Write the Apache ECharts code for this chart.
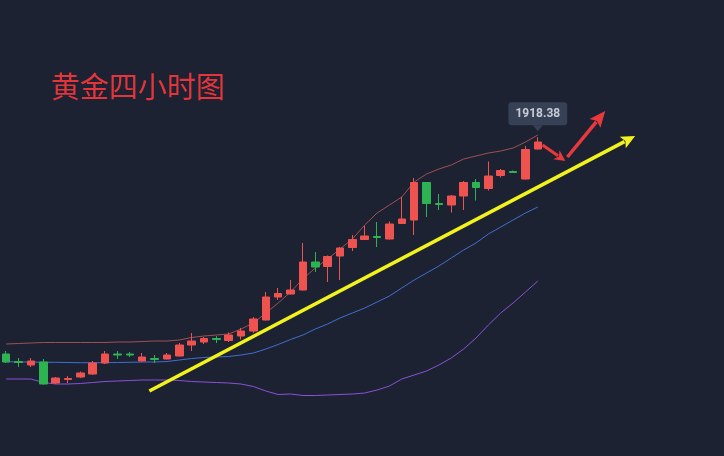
<!DOCTYPE html>
<html><head><meta charset="utf-8">
<script src="https://cdn.jsdelivr.net/npm/echarts@6/dist/echarts.min.js"></script>
<style>html,body{margin:0;padding:0;background:#1d2233;}#c{width:724px;height:456px;}</style>
</head><body><div id="c"></div>
<script>
const categories = ['1','2','3','4','5','6','7','8','9','10','11','12','13','14','15','16','17','18','19','20','21','22','23','24','25','26','27','28','29','30','31','32','33','34','35','36','37','38','39','40','41','42','43','44'];
const opens  = [1810,1806.25,1804.5,1806,1795.5,1797.25,1798.5,1800,1805.5,1810,1810,1806.5,1807.75,1807.5,1809,1814.5,1816,1817.75,1816.75,1819,1821.5,1827,1838.5,1840,1842,1856,1853.75,1859,1863.25,1867.25,1868.75,1867.5,1875.25,1877,1895.75,1885.25,1884.5,1889,1895.75,1892.75,1899.25,1901.25,1897.5,1912.5];
const closes = [1806,1805.75,1806.5,1795,1798,1797.75,1800.5,1805.5,1810,1809.5,1809.5,1808.5,1807.25,1809.5,1814.5,1816.5,1817.75,1817.25,1819.5,1821.5,1827.5,1838.5,1840.25,1842,1856,1853.5,1858.75,1863,1867.25,1869,1868.25,1875,1877.5,1895.75,1885.25,1884.75,1889,1895.75,1893.25,1899,1901.75,1900.75,1912.25,1916];
const lows   = [1805.5,1803.5,1803.5,1794.75,1795,1795.5,1798,1799.5,1805,1807.5,1808.5,1806.25,1805.5,1807.25,1808.75,1811.5,1815,1815.5,1816,1817.25,1820.5,1826.75,1837,1839.75,1841.75,1851,1846,1847,1861.5,1867,1863.5,1867.25,1875,1869.5,1878.5,1882,1880.75,1882,1886.75,1891.75,1898.25,1900.5,1897.25,1912.25];
const highs  = [1811.5,1808,1808,1807.5,1798.5,1799,1801.25,1806.5,1811.5,1811.5,1811,1810.5,1809.5,1810.5,1815.5,1820.5,1818.5,1819,1820.75,1823,1828.5,1841,1843,1847,1865.5,1861,1859.25,1863.5,1869.5,1874,1876,1876.25,1888.5,1898,1896,1890,1889.5,1896.5,1897.5,1906.25,1902.5,1901.75,1914,1918.38];
const upperBand  = [1815,1815.25,1815.5,1815.75,1815.75,1815.75,1815.75,1815.75,1815.75,1816,1816,1816.25,1816.5,1816.5,1817,1818.25,1819,1819.5,1820,1822.5,1825.5,1830.5,1835.5,1841,1847.5,1853,1857.5,1862.5,1867.5,1874.5,1880.5,1884.5,1888.5,1896,1900,1902.5,1904.5,1907.5,1909,1910.5,1911.5,1913,1916,1919.5];
const middleBand = [1806.15,1806,1806,1805.85,1805.85,1805.75,1805.65,1805.65,1805.65,1805.75,1805.85,1806,1806,1806.25,1807,1807.75,1808.25,1808.5,1808.75,1809.5,1810.5,1812.5,1814.75,1817.25,1819.5,1822.5,1825,1828,1830.5,1833,1836,1839,1843,1847,1850.5,1854,1858,1862,1865.5,1870,1873.5,1877,1880.5,1883.5];
const lowerBand  = [1797.5,1797.5,1797.5,1795.75,1795,1795,1795.25,1795.75,1796.25,1796.5,1796.75,1797,1797,1797,1796.75,1796.25,1796,1795.75,1795.5,1795,1793.75,1791.5,1789.75,1790,1789.25,1789.25,1789.5,1789.75,1790,1790.5,1792,1794,1797.5,1799.5,1801.5,1804.5,1808,1812.5,1818,1824.5,1830.5,1835.5,1841,1846.5];
// annotation anchors: [bar index, price]
const trendLine = [[11.58, 1791.5], [50.87, 1919]];
const redArrow1 = [[43.38, 1914.5], [45.23, 1906.5]];
const redArrow2 = [[45.39, 1908.5], [48.45, 1931.5]];
const titleText = '黄金四小时图';

const candleData = opens.map((o, i) => [o, closes[i], lows[i], highs[i]]);
const last = categories.length - 1;

const chart = echarts.init(document.getElementById('c'), null, {renderer: 'canvas'});
chart.setOption({
  backgroundColor: '#1d2233',
  animation: false,
  title: {
    text: titleText, left: 51, top: 72, padding: 0,
    textStyle: {color: '#e5353a', fontSize: 29, fontWeight: 'normal', fontFamily: 'Noto Sans CJK SC'}
  },
  grid: {left: -3.5, top: 0, width: 547.5, height: 456},
  xAxis: [
    {type: 'category', data: categories, show: false, boundaryGap: true},
    {type: 'value', min: -0.5, max: 43.5, show: false, gridIndex: 0}
  ],
  yAxis: {type: 'value', min: 1759, max: 1987, show: false, splitLine: {show: false}},
  series: [
    {type: 'line', data: upperBand, showSymbol: false, lineStyle: {color: '#a04f52', width: 1}, z: 2},
    {type: 'line', data: middleBand, showSymbol: false, lineStyle: {color: '#3f6fcf', width: 1}, z: 2},
    {type: 'line', data: lowerBand, showSymbol: false, lineStyle: {color: '#8a50d8', width: 1}, z: 2},
    {
      type: 'candlestick', data: candleData, barWidth: 8, z: 3,
      itemStyle: {color: '#ef5350', color0: '#2db352', borderColor: '#ef5350', borderColor0: '#2db352', borderWidth: 1},
      markPoint: {
        symbol: 'triangle', symbolRotate: 180, symbolSize: [10, 6], symbolOffset: [0, -9],
        itemStyle: {color: '#374155'},
        label: {
          show: true, position: 'top', distance: 0, formatter: '{c}',
          backgroundColor: '#374155', padding: [6, 7, 5, 7], borderRadius: 3,
          color: '#c8ccd5', fontSize: 12, fontWeight: 'bold', fontFamily: 'Roboto'
        },
        data: [{coord: [last, highs[last]], value: highs[last].toFixed(2)}]
      }
    }
  ]
});

function px(p) {
  return [chart.convertToPixel({xAxisIndex: 1}, p[0]), chart.convertToPixel({yAxisIndex: 0}, p[1])];
}
function arrow(seg, color, w, headLen, headW) {
  const a = px(seg[0]), b = px(seg[1]);
  const dx = b[0] - a[0], dy = b[1] - a[1], L = Math.hypot(dx, dy), ux = dx / L, uy = dy / L;
  const bx = b[0] - ux * headLen, by = b[1] - uy * headLen, nx = -uy, ny = ux;
  return [
    {type: 'line', z: 100, shape: {x1: a[0], y1: a[1], x2: bx + ux * 2, y2: by + uy * 2}, style: {stroke: color, lineWidth: w}},
    {type: 'polygon', z: 100, shape: {points: [[b[0], b[1]], [bx + nx * headW / 2, by + ny * headW / 2], [bx + ux * 3, by + uy * 3], [bx - nx * headW / 2, by - ny * headW / 2]]}, style: {fill: color}}
  ];
}
chart.setOption({
  graphic: [].concat(
    arrow(trendLine, '#f2f21c', 3.5, 14, 13),
    arrow(redArrow1, '#e83a3c', 3, 11, 11),
    arrow(redArrow2, '#e83a3c', 3.5, 16, 14)
  )
});
</script></body></html>
